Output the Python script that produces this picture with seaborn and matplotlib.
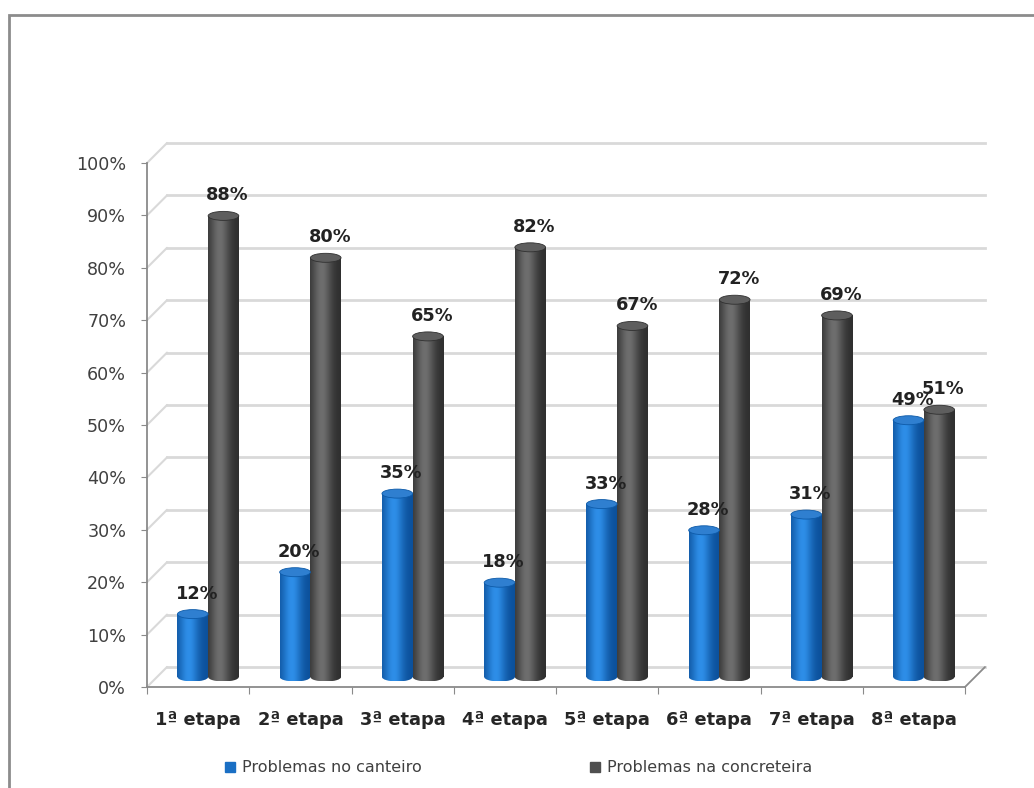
import numpy as np
import pandas as pd
import matplotlib
matplotlib.use("Agg")
import matplotlib.pyplot as plt
import seaborn as sns
from matplotlib.patches import Ellipse, Rectangle, ConnectionPatch
from matplotlib.lines import Line2D

# ---------------- data ----------------
etapas = ["1ª etapa", "2ª etapa", "3ª etapa", "4ª etapa",
          "5ª etapa", "6ª etapa", "7ª etapa", "8ª etapa"]
series_names = ["Problemas no canteiro", "Problemas na concreteira"]
canteiro = [12, 20, 35, 18, 33, 28, 31, 49]
concreteira = [88, 80, 65, 82, 67, 72, 69, 51]
y_ticks = [0, 10, 20, 30, 40, 50, 60, 70, 80, 90, 100]
y_tick_labels = [f"{t}%" for t in y_ticks]

df = pd.DataFrame({
    "etapa": etapas * 2,
    "valor": canteiro + concreteira,
    "serie": [series_names[0]] * len(etapas) + [series_names[1]] * len(etapas),
})

plt.rcParams["font.family"] = ["DejaVu Sans"]

BLUE = "#1a6fc4"
GRAY = "#4f4f4f"
GRID = "#d9d9d9"
AXIS = "#8a8a8a"
TXT = "#404040"

W_PX, H_PX = 1034, 788
fig = plt.figure(figsize=(W_PX / 100, H_PX / 100), dpi=100)
fig.patch.set_facecolor("white")

aw, ah = 818 / W_PX, 524 / H_PX
def pos(left_px, base_px, extra_px=0):
    return [left_px / W_PX, (H_PX - base_px - extra_px) / H_PX, aw,
            (524 + extra_px) / H_PX]

EXTRA = 9  # px of room below the mid-plane floor for the cylinder bottoms
eh = EXTRA / 524 * 100  # ellipse height in data units

axb = fig.add_axes(pos(167, 667))          # back wall
ax = fig.add_axes(pos(157, 677, EXTRA))    # mid plane (bars)
axf = fig.add_axes(pos(147, 687))          # front plane (axes)
axb.set_zorder(0); ax.set_zorder(1); axf.set_zorder(2)

xlim = (-0.5, len(etapas) - 0.5)
for a in (axb, axf):
    a.set_xlim(*xlim)
    a.set_ylim(0, 100)
    a.patch.set_visible(False)
ax.patch.set_visible(False)

# back wall gridlines
for t in y_ticks:
    axb.axhline(t, color=GRID, lw=2, clip_on=False)
axb.set_axis_off()

# bars
sns.barplot(data=df, x="etapa", y="valor", hue="serie",
            palette=[BLUE, GRAY], width=0.6, ax=ax, legend=False,
            saturation=1, edgecolor="none")
ax.set_axis_off()

def profile(dark, light, n=64):
    t = np.linspace(0, 1, n)
    s = np.exp(-((t - 0.38) / 0.32) ** 2)
    dark = np.array(matplotlib.colors.to_rgb(dark))
    light = np.array(matplotlib.colors.to_rgb(light))
    return (dark[None, :] + (light - dark)[None, :] * s[:, None])[None, :, :]

grads = [profile("#0b4f99", "#2e8ee8"), profile("#2e2e2e", "#6e6e6e")]
caps = ["#2f7fd0", "#5e5e5e"]

for ci, cont in enumerate(ax.containers):
    for p in cont.patches:
        x0, w, h = p.get_x(), p.get_width(), p.get_height()
        im = ax.imshow(grads[ci], extent=(x0, x0 + w, 0, h), aspect="auto",
                       zorder=3, interpolation="bilinear")
        im.set_clip_path(p)
        be = Ellipse((x0 + w / 2, 0), w, eh, facecolor="none",
                     edgecolor="none")
        ax.add_patch(be)
        im2 = ax.imshow(grads[ci], extent=(x0, x0 + w, -eh / 2, eh / 2),
                        aspect="auto", zorder=3, interpolation="bilinear")
        im2.set_clip_path(be)
        te = Ellipse((x0 + w / 2, h), w, eh, facecolor=caps[ci],
                     edgecolor="#303030" if ci else "#0d5aa8", lw=0.6, zorder=4)
        ax.add_patch(te)
        ax.annotate(f"{h:.0f}%", (x0 + w / 2, h + eh / 2),
                    xytext=(3, 5), textcoords="offset points",
                    ha="center", va="bottom", fontsize=12.8,
                    fontweight="bold", color="#222222", zorder=6,
                    annotation_clip=False)
ax.set_xlim(*xlim)
ax.set_ylim(-eh, 100)

# front axes
for s in ("top", "right"):
    axf.spines[s].set_visible(False)
for s in ("left", "bottom"):
    axf.spines[s].set_color(AXIS)
    axf.spines[s].set_linewidth(1.3)
axf.set_yticks(y_ticks)
axf.set_yticklabels(y_tick_labels)
axf.tick_params(axis="y", direction="out", length=4, color=AXIS,
                labelsize=12.6, labelcolor=TXT, pad=11)
axf.set_xticks(np.arange(-0.5, len(etapas), 1.0))
axf.set_xticklabels([])
axf.set_xticks(np.arange(len(etapas)), minor=True)
axf.set_xticklabels(etapas, minor=True, fontweight="bold", fontsize=12.8,
                    color="#262626")
axf.tick_params(axis="x", which="major", direction="out", length=5, color=AXIS)
axf.tick_params(axis="x", which="minor", length=0, pad=17)

# diagonal connectors (3D depth)
for t in y_ticks:
    cp = ConnectionPatch(xyA=(xlim[0], t), coordsA=axf.transData,
                         xyB=(xlim[0], t), coordsB=axb.transData,
                         color=GRID, lw=1.5)
    fig.add_artist(cp)
cp = ConnectionPatch(xyA=(xlim[1], 0), coordsA=axf.transData,
                     xyB=(xlim[1], 0), coordsB=axb.transData,
                     color=AXIS, lw=1.3)
fig.add_artist(cp)

# legend
handles = [Line2D([], [], marker="s", linestyle="", color=BLUE, markersize=7),
           Line2D([], [], marker="s", linestyle="", color=GRAY, markersize=7)]
leg = fig.legend(handles, series_names, loc="center",
                 bbox_to_anchor=(518 / W_PX, 20 / H_PX), ncol=2, frameon=False,
                 fontsize=11.5, handlelength=0.8, handletextpad=0.3,
                 columnspacing=10.5)
for t in leg.get_texts():
    t.set_color(TXT)

# outer frame
fig.add_artist(Rectangle((9 / W_PX, -0.1), 1.2, 1 - 15 / H_PX + 0.1,
                         transform=fig.transFigure, fill=False,
                         edgecolor="#8c8c8c", lw=2))

fig.savefig("out.png", dpi=100)
